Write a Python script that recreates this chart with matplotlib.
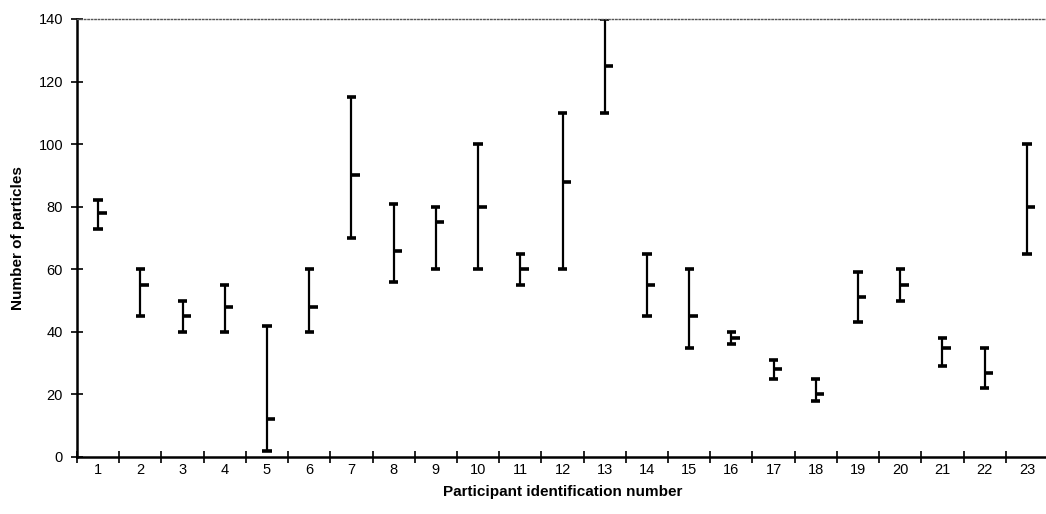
import numpy as np
import matplotlib.pyplot as plt

plt.rcParams['font.family'] = ['Liberation Sans', 'DejaVu Sans']

# Per-participant particle counts: highest, lowest and typical value
participants = list(range(1, 24))
high = [82, 60, 50, 55, 42, 60, 115, 81, 80, 100, 65, 110, 140, 65, 60, 40, 31, 25, 59, 60, 38, 35, 100]
low = [73, 45, 40, 40, 2, 40, 70, 56, 60, 60, 55, 60, 110, 45, 35, 36, 25, 18, 43, 50, 29, 22, 65]
mid = [78, 55, 45, 48, 12, 48, 90, 66, 75, 80, 60, 88, 125, 55, 45, 38, 28, 20, 51, 55, 35, 27, 80]
y_ticks = [0, 20, 40, 60, 80, 100, 120, 140]

x = np.array(participants)

fig = plt.figure(figsize=(10.46, 5.14), dpi=100)
ax = fig.add_axes([77 / 1046, 1 - 457 / 514, 971 / 1046, 438 / 514])

# high-low bars with caps, plus a right-hand tick for the middle value
ax.vlines(x, low, high, color='black', lw=1.6)
ax.hlines(high, x - 0.11, x + 0.11, color='black', lw=2.6)
ax.hlines(low, x - 0.11, x + 0.11, color='black', lw=2.6)
ax.hlines(mid, x, x + 0.2, color='black', lw=2.6)

ax.set_xlim(0.5, 23.5)
ax.set_ylim(0, 140)

ax.set_yticks(y_ticks)
ax.set_xticks(x)
ax.set_xticks(np.arange(0.5, 24, 1), minor=True)
ax.tick_params(axis='x', which='major', length=0, pad=4, labelsize=10.5)
ax.tick_params(axis='x', which='minor', direction='inout', length=8, width=1.2)
ax.tick_params(axis='y', direction='inout', length=8, width=1.2, labelsize=10.5, pad=6)

ax.spines['right'].set_visible(False)
ax.spines['top'].set_linestyle((0, (1, 1.5)))
ax.spines['top'].set_color('#555555')
ax.spines['top'].set_linewidth(1)
ax.spines['left'].set_linewidth(1.8)
ax.spines['bottom'].set_linewidth(1.8)

ax.set_xlabel('Participant identification number', fontsize=11, fontweight='bold', labelpad=6)
ax.set_ylabel('Number of particles', fontsize=11, fontweight='bold', labelpad=10)

fig.savefig('out.png', dpi=100)
